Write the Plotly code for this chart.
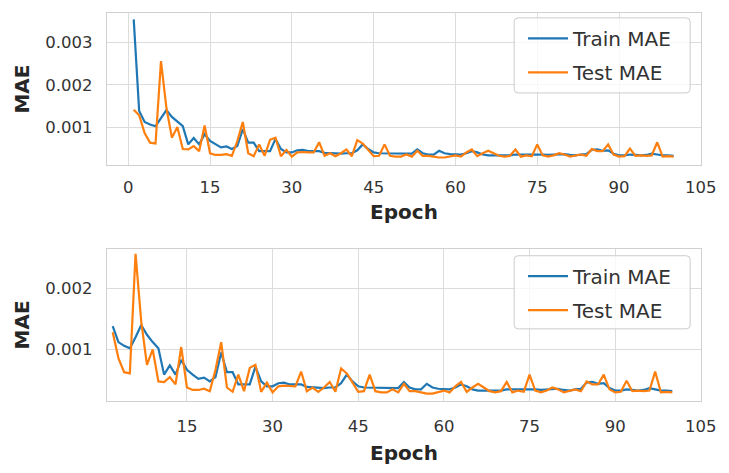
import plotly.graph_objects as go

epochs = list(range(1, 101))

train_mae = [
    0.00355, 0.00138, 0.00112, 0.00106, 0.00102, 0.00120, 0.00140, 0.00124, 0.00112, 0.00102,
    0.00059, 0.00074, 0.00059, 0.00083, 0.00067, 0.00059, 0.00052, 0.00054, 0.00048, 0.00055,
    0.00095, 0.00063, 0.00063, 0.00043, 0.00043, 0.00043, 0.00072, 0.00048, 0.00040, 0.00040,
    0.00045, 0.00046, 0.00043, 0.00043, 0.00043, 0.00039, 0.00038, 0.00038, 0.00037, 0.00038,
    0.00038, 0.00045, 0.00059, 0.00048, 0.00040, 0.00038, 0.00038, 0.00038, 0.00037, 0.00038,
    0.00038, 0.00037, 0.00047, 0.00038, 0.00035, 0.00035, 0.00044, 0.00038, 0.00036, 0.00035,
    0.00035, 0.00038, 0.00043, 0.00040, 0.00035, 0.00033, 0.00033, 0.00033, 0.00032, 0.00033,
    0.00035, 0.00035, 0.00036, 0.00035, 0.00035, 0.00035, 0.00034, 0.00035, 0.00036, 0.00036,
    0.00034, 0.00033, 0.00035, 0.00036, 0.00046, 0.00047, 0.00044, 0.00045, 0.00037, 0.00033,
    0.00033, 0.00035, 0.00034, 0.00033, 0.00034, 0.00037, 0.00035, 0.00033, 0.00033, 0.00032,
]

test_mae = [
    0.00141, 0.00128, 0.00086, 0.00063, 0.00061, 0.00256, 0.00145, 0.00075, 0.00100, 0.00048,
    0.00047, 0.00055, 0.00043, 0.00104, 0.00038, 0.00034, 0.00034, 0.00036, 0.00032, 0.00067,
    0.00112, 0.00038, 0.00031, 0.00059, 0.00032, 0.00070, 0.00075, 0.00031, 0.00046, 0.00030,
    0.00040, 0.00041, 0.00040, 0.00040, 0.00064, 0.00032, 0.00038, 0.00031, 0.00038, 0.00047,
    0.00031, 0.00069, 0.00061, 0.00045, 0.00031, 0.00032, 0.00059, 0.00032, 0.00030, 0.00030,
    0.00035, 0.00030, 0.00044, 0.00032, 0.00032, 0.00030, 0.00028, 0.00028, 0.00030, 0.00033,
    0.00030, 0.00040, 0.00047, 0.00031, 0.00038, 0.00044, 0.00038, 0.00032, 0.00030, 0.00032,
    0.00047, 0.00030, 0.00033, 0.00031, 0.00059, 0.00033, 0.00030, 0.00033, 0.00038, 0.00035,
    0.00030, 0.00032, 0.00035, 0.00032, 0.00048, 0.00043, 0.00043, 0.00059, 0.00035, 0.00030,
    0.00031, 0.00049, 0.00032, 0.00033, 0.00032, 0.00033, 0.00064, 0.00030, 0.00031, 0.00030,
]

x_ticks_top = [0, 15, 30, 45, 60, 75, 90, 105]
x_ticks_bottom = [15, 30, 45, 60, 75, 90, 105]
y_ticks_top = [0.001, 0.002, 0.003]
y_ticks_bottom = [0.001, 0.002]

BLUE = "#1f77b4"
ORANGE = "#ff7f0e"
GRID = "#dcdcdc"
TEXT = "#262626"
FONT = "DejaVu Sans"

# figure geometry (pixels)
W, H = 729, 473
ML, MR, MT, MB = 107, 18, 13, 62
PW, PH = W - ML - MR, H - MT - MB


def px_to_paper(px, py):
    return (px - ML) / PW, (H - MB - py) / PH


def rounded_box(x0, y0, x1, y1, r=4):
    # rounded rectangle path in paper coordinates from pixel corners
    rx, ry = r / PW, r / PH
    a0, b1 = px_to_paper(x0, y0)
    a1, b0 = px_to_paper(x1, y1)
    return (f"M {a0+rx},{b1} L {a1-rx},{b1} Q {a1},{b1} {a1},{b1-ry} "
            f"L {a1},{b0+ry} Q {a1},{b0} {a1-rx},{b0} "
            f"L {a0+rx},{b0} Q {a0},{b0} {a0},{b0+ry} "
            f"L {a0},{b1-ry} Q {a0},{b1} {a0+rx},{b1} Z")


fig = go.Figure()

# top panel: all epochs
fig.add_trace(go.Scatter(x=epochs, y=train_mae, mode="lines", name="Train MAE",
                         line=dict(color=BLUE, width=2.2), xaxis="x", yaxis="y",
                         legend="legend", legendgroup="a"))
fig.add_trace(go.Scatter(x=epochs, y=test_mae, mode="lines", name="Test MAE",
                         line=dict(color=ORANGE, width=2.2), xaxis="x", yaxis="y",
                         legend="legend", legendgroup="b"))
# bottom panel: from second epoch
fig.add_trace(go.Scatter(x=epochs[1:], y=train_mae[1:], mode="lines", name="Train MAE",
                         line=dict(color=BLUE, width=2.2), xaxis="x2", yaxis="y2",
                         legend="legend2", legendgroup="c"))
fig.add_trace(go.Scatter(x=epochs[1:], y=test_mae[1:], mode="lines", name="Test MAE",
                         line=dict(color=ORANGE, width=2.2), xaxis="x2", yaxis="y2",
                         legend="legend2", legendgroup="d"))

axis_common = dict(
    showgrid=True, gridcolor=GRID, gridwidth=1,
    showline=True, linecolor="#d0d0d0", linewidth=1.2, mirror=True,
    zeroline=False, ticks="outside", tickcolor="rgba(0,0,0,0)",
    tickfont=dict(family=FONT, size=16.5, color="#333333"),
)
title_font = dict(family=FONT, size=20, color=TEXT, weight="bold")

legend_common = dict(
    bgcolor="rgba(0,0,0,0)", borderwidth=0,
    font=dict(family=FONT, size=20, color="#333333"),
    xanchor="left", yanchor="top", tracegroupgap=5, itemwidth=40,
)

lx, ly_top = px_to_paper(530, 19)
_, ly_bot = px_to_paper(530, 263)

box_style = dict(type="path", xref="paper", yref="paper", layer="above",
                 fillcolor="rgba(255,255,255,0.8)",
                 line=dict(color="#cccccc", width=1))

fig.update_layout(
    width=W, height=H,
    margin=dict(l=ML, r=MR, t=MT, b=MB),
    paper_bgcolor="white", plot_bgcolor="white",
    showlegend=True,
    xaxis=dict(axis_common, domain=[0, 1], anchor="y", range=[-3.9, 105.03],
               tickvals=x_ticks_top, ticklen=7,
               title=dict(text="Epoch", font=title_font, standoff=9)),
    yaxis=dict(axis_common, domain=[0.608, 1], anchor="x", range=[0.0001, 0.0037],
               tickvals=y_ticks_top, tickformat=".3f", ticklen=10,
               title=dict(text="MAE", font=title_font, standoff=10)),
    xaxis2=dict(axis_common, domain=[0, 1], anchor="y2", range=[1, 105.03],
                tickvals=x_ticks_bottom, ticklen=10,
                title=dict(text="Epoch", font=title_font, standoff=11)),
    yaxis2=dict(axis_common, domain=[0, 0.392], anchor="x2", range=[0.00016, 0.00264],
                tickvals=y_ticks_bottom, tickformat=".3f", ticklen=10,
                title=dict(text="MAE", font=title_font, standoff=10)),
    legend=dict(legend_common, x=lx, y=ly_top),
    legend2=dict(legend_common, x=lx, y=ly_bot),
    shapes=[
        dict(box_style, path=rounded_box(521, 18, 700, 95)),
        dict(box_style, path=rounded_box(521, 262, 700, 337)),
    ],
)

fig.write_html("out.html")
